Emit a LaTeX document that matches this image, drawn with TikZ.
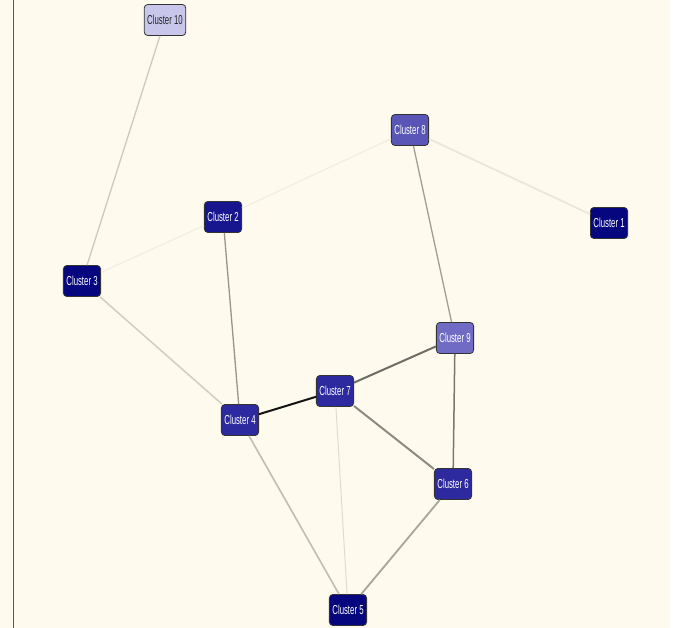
\documentclass[tikz,border=0pt]{standalone}
\usepackage{fontspec}
\newfontfamily\nodefont[FakeStretch=0.6]{Liberation Sans}
\begin{document}
\begin{tikzpicture}[x=1pt,y=-1pt,
  cl/.style={draw=black!80, line width=0.8pt, rounded corners=3.5pt, minimum width=36pt, minimum height=31pt, inner xsep=3pt, font=\nodefont\fontsize{13}{14}\selectfont, text=white},
  ed/.style={line width=1.3pt}]
\definecolor{bg}{HTML}{FEFAEE}
\definecolor{navy}{HTML}{06067E}
\definecolor{cA}{HTML}{18168E}
\definecolor{cB}{HTML}{2C2A9E}
\definecolor{cC}{HTML}{5A56B8}
\definecolor{cD}{HTML}{706CC6}
\definecolor{cE}{HTML}{C8C6EA}
\useasboundingbox (0,0) rectangle (675,628);
\fill[white] (0,0) rectangle (675,628);
\fill[bg] (0,0) rectangle (670,628);
\draw[black!65, line width=1.8pt] (13.5,0) -- (13.5,628);

\node[cl, fill=cE, text=black!85] (c10) at (165,20) {Cluster 10};
\node[cl, fill=cC] (c8) at (410,130) {Cluster 8};
\node[cl, fill=navy] (c1) at (609,223) {Cluster 1};
\node[cl, fill=cA] (c2) at (223,217) {Cluster 2};
\node[cl, fill=navy] (c3) at (82,281) {Cluster 3};
\node[cl, fill=cD] (c9) at (455,338) {Cluster 9};
\node[cl, fill=cB] (c7) at (335,391) {Cluster 7};
\node[cl, fill=cB] (c4) at (240,420) {Cluster 4};
\node[cl, fill=cB] (c6) at (453,484) {Cluster 6};
\node[cl, fill=navy] (c5) at (348,610) {Cluster 5};

\draw[ed, color={rgb,255:red,204;green,202;blue,192}] (c10) -- (c3);
\draw[ed, color={rgb,255:red,242;green,239;blue,226}] (c3) -- (c2);
\draw[ed, color={rgb,255:red,242;green,239;blue,226}] (c2) -- (c8);
\draw[ed, line width=1.8pt, color={rgb,255:red,234;green,232;blue,220}] (c8) -- (c1);
\draw[ed, color={rgb,255:red,160;green,159;blue,150}] (c8) -- (c9);
\draw[ed, color={rgb,255:red,150;green,149;blue,140}] (c2) -- (c4);
\draw[ed, line width=1.6pt, color={rgb,255:red,210;green,208;blue,196}] (c3) -- (c4);
\draw[ed, line width=2pt, color=black!92] (c4) -- (c7);
\draw[ed, line width=2pt, color={rgb,255:red,110;green,109;blue,102}] (c7) -- (c9);
\draw[ed, line width=1.5pt, color={rgb,255:red,120;green,119;blue,112}] (c9) -- (c6);
\draw[ed, line width=2pt, color={rgb,255:red,140;green,139;blue,130}] (c7) -- (c6);
\draw[ed, line width=1pt, color={rgb,255:red,222;green,220;blue,210}] (c7) -- (c5);
\draw[ed, line width=1.6pt, color={rgb,255:red,192;green,190;blue,180}] (c4) -- (c5);
\draw[ed, line width=1.8pt, color={rgb,255:red,168;green,166;blue,156}] (c6) -- (c5);
\end{tikzpicture}
\end{document}
